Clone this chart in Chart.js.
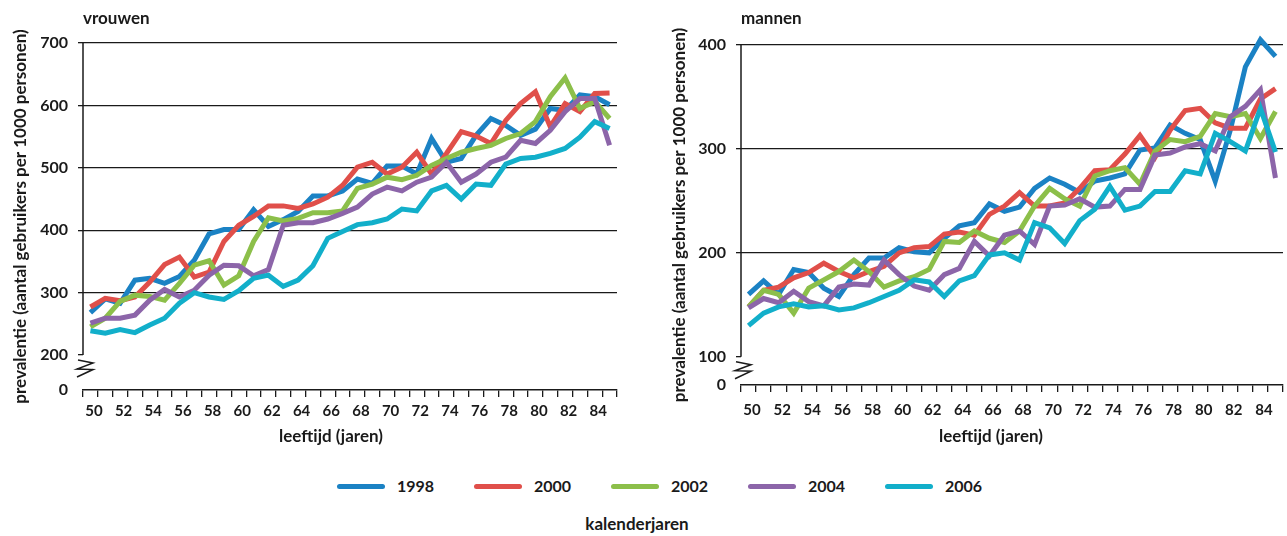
<!DOCTYPE html>
<html>
<head>
<meta charset="utf-8">
<script src="https://cdn.jsdelivr.net/npm/chart.js@4.4.1/dist/chart.umd.min.js"></script>
<style>
  html, body { margin: 0; padding: 0; background: #fff; overflow: hidden; }
  body { width: 1287px; height: 536px; position: relative; font-family: Lato, 'Open Sans', sans-serif; color: #1a1a1a; }
  .panel { position: absolute; top: 0; height: 460px; }
  #legend { position: absolute; left: 337px; top: 476px; display: flex; }
  .item { width: 137px; display: flex; align-items: center; font-weight: bold; font-size: 16px; line-height: 20px; }
  .swatch { width: 48px; height: 5px; border-radius: 3px; margin-right: 12px; }
  #legend-title { position: absolute; left: 537px; width: 200px; top: 514px; text-align: center; font-weight: bold; font-size: 17px; line-height: 20px; }
</style>
</head>
<body>
<div class="panel" style="left:0;width:662px"><canvas id="vrouwen"></canvas></div>
<div class="panel" style="left:659px;width:664px"><canvas id="mannen"></canvas></div>
<div id="legend"></div>
<div id="legend-title">kalenderjaren</div>
<script>
// leeftijden (categorieën)
const ages = [50,51,52,53,54,55,56,57,58,59,60,61,62,63,64,65,66,67,
              68,69,70,71,72,73,74,75,76,77,78,79,80,81,82,83,84,85];
const years   = ['1998', '2000', '2002', '2004', '2006'];
const colours = ['#1b82c4', '#e04f4a', '#8cbf4a', '#8c65a9', '#12afca'];

// vrouwen, prevalentie per 1000
const vrouwen1998 = [268,290,283,320,323,315,326,352,394,401,401,433,406,417,430,455,455,463,
                     482,475,503,503,490,547,509,515,552,579,568,552,562,595,592,617,614,601];
const vrouwen2000 = [277,291,287,293,317,345,357,325,333,382,408,422,439,439,435,442,453,472,
                     501,509,490,501,525,490,523,558,551,539,576,603,622,566,603,590,619,620];
const vrouwen2002 = [245,259,286,296,294,288,315,344,351,312,327,382,420,415,419,428,428,431,
                     467,474,485,481,488,504,515,525,531,536,547,555,574,614,644,595,606,579];
const vrouwen2004 = [251,259,259,264,288,305,293,304,328,344,343,327,337,408,412,412,418,427,
                     437,458,469,463,477,485,509,477,490,509,517,544,539,560,590,611,611,536];
const vrouwen2006 = [239,235,241,236,248,259,283,300,293,289,303,323,328,310,320,343,387,398,
                     409,412,418,434,431,463,472,450,474,472,506,515,517,523,531,549,574,563];

// mannen, prevalentie per 1000
const mannen1998 = [160,173,160,184,181,166,158,179,195,195,205,201,200,214,226,229,247,240,
                    244,262,272,266,258,269,272,276,299,301,323,315,309,269,318,379,405,389];
const mannen2000 = [148,164,167,176,181,190,182,176,182,187,200,205,206,218,220,217,237,245,
                    258,245,245,248,262,279,280,295,313,292,318,337,339,325,320,320,348,358];
const mannen2002 = [148,164,160,142,166,174,182,193,182,167,173,177,184,211,210,221,214,210,
                    221,245,262,252,245,274,279,282,266,298,309,307,312,334,331,334,310,336];
const mannen2004 = [147,156,152,163,153,149,167,170,169,193,179,168,164,179,185,211,197,217,
                    221,208,245,246,252,244,245,261,261,294,296,302,305,298,331,341,357,272];
const mannen2006 = [130,142,148,151,148,149,145,147,152,158,164,174,172,158,173,178,198,200,
                    193,229,224,209,231,242,264,241,245,259,259,279,276,315,307,298,339,297];

// y-as labels (onderkant van de as is "0", met asbreuk)
const vrouwenTicks = [200, 300, 400, 500, 600, 700];
const mannenTicks  = [100, 200, 300, 400];

const ink = '#1a1a1a';
const none = 'rgba(0,0,0,0)';
const font = (size) => ({ family: "Lato, 'Open Sans', sans-serif", size: size, weight: 'bold' });

// y-as lijn vanaf laagste label en de asbreuk eronder
const axisBreak = {
  id: 'axisBreak',
  afterDatasetsDraw(chart, args, opts) {
    const { ctx, chartArea } = chart;
    const x0 = chartArea.left;
    const yLow = chart.scales.y.getPixelForValue(opts.low);
    ctx.save();
    ctx.strokeStyle = ink;
    ctx.lineWidth = 1.5;
    ctx.beginPath();
    ctx.moveTo(x0, chartArea.top);
    ctx.lineTo(x0, yLow);
    ctx.stroke();
    ctx.beginPath();
    ctx.moveTo(x0 - 5, yLow + 5);
    ctx.lineTo(x0 + 10, yLow + 8);
    ctx.lineTo(x0 - 6, yLow + 14);
    ctx.lineTo(x0 + 10, yLow + 14.5);
    ctx.lineTo(x0 - 6, yLow + 22);
    ctx.stroke();
    ctx.restore();
  }
};

function makeChart(id, title, series, ticks, yMin, geo) {
  const yLow = ticks[0];
  const yTop = ticks[ticks.length - 1];
  return new Chart(document.getElementById(id), {
    type: 'line',
    data: {
      labels: ages,
      datasets: series.map((data, i) => ({
        label: years[i],
        data: data,
        borderColor: colours[i],
        backgroundColor: colours[i],
        borderWidth: 5,
        pointRadius: 0,
        pointHoverRadius: 0,
        tension: 0,
        fill: false,
        clip: false,
        order: series.length - i
      }))
    },
    options: {
      responsive: true,
      maintainAspectRatio: false,
      animation: false,
      layout: { padding: 0 },
      plugins: {
        legend: { display: false },
        tooltip: { enabled: false },
        title: {
          display: true, text: title, align: 'start', fullSize: false,
          color: ink, font: font(17), padding: { top: 8, bottom: geo.titleGap }
        },
        subtitle: {
          display: true, position: 'bottom', text: 'leeftijd (jaren)',
          color: ink, font: font(17), padding: { top: 6.8, bottom: 12.8 }
        },
        axisBreak: { low: yLow }
      },
      scales: {
        x: {
          type: 'category',
          offset: true,
          grid: { display: true, offset: true, drawOnChartArea: false, drawTicks: true,
                  tickLength: 7, color: ink, lineWidth: 1.3 },
          border: { display: true, color: ink, width: 1.5 },
          ticks: {
            autoSkip: false, maxRotation: 0, minRotation: 0,
            padding: geo.xPad, labelOffset: 3.5, color: ink, font: font(15),
            callback: (v, i) => (ages[i] % 2 === 0 ? String(ages[i]) : '')
          },
          afterFit: s => { s.height = geo.xHeight; }
        },
        y: {
          min: yMin,
          max: yTop,
          afterBuildTicks: s => { s.ticks = [yMin].concat(ticks).map(v => ({ value: v })); },
          grid: {
            color: c => (c.tick && c.tick.value > yLow ? ink : none),
            tickColor: c => (c.tick && c.tick.value >= yLow ? ink : none),
            lineWidth: 1.3, tickLength: 5, drawTicks: true
          },
          border: { display: false },
          ticks: {
            padding: 10, color: ink, font: font(16),
            callback: v => (v === yMin ? '0' : String(v))
          },
          title: {
            display: true, text: 'prevalentie (aantal gebruikers per 1000 personen)',
            color: ink, font: font(17), padding: { top: 10, bottom: 0 }
          },
          afterFit: s => { s.width = geo.yWidth; }
        },
        pad: {
          type: 'linear', position: 'right', display: true,
          grid: { display: false }, border: { display: false }, ticks: { display: false },
          afterFit: s => { s.width = geo.rightWidth; }
        }
      }
    },
    plugins: [axisBreak]
  });
}

makeChart('vrouwen', 'vrouwen',
  [vrouwen1998, vrouwen2000, vrouwen2002, vrouwen2004, vrouwen2006],
  vrouwenTicks, 144,
  { titleGap: 14.6, xHeight: 30, xPad: 5, yWidth: 83, rightWidth: 45 });

makeChart('mannen', 'mannen',
  [mannen1998, mannen2000, mannen2002, mannen2004, mannen2006],
  mannenTicks, 72.8,
  { titleGap: 16.6, xHeight: 35, xPad: 9, yWidth: 82, rightWidth: 40 });

// legenda
const legend = document.getElementById('legend');
years.forEach((y, i) => {
  const item = document.createElement('div');
  item.className = 'item';
  const sw = document.createElement('span');
  sw.className = 'swatch';
  sw.style.background = colours[i];
  item.appendChild(sw);
  item.appendChild(document.createTextNode(y));
  legend.appendChild(item);
});
</script>
</body>
</html>
